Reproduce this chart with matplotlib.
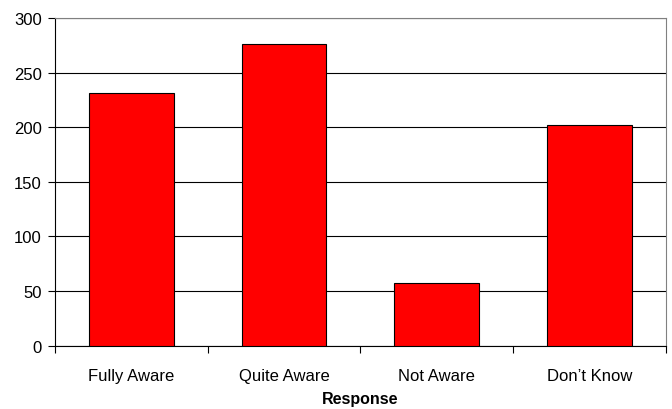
import matplotlib.pyplot as plt
import numpy as np

plt.rcParams['font.family'] = ['Liberation Sans', 'DejaVu Sans']

categories = ["Fully Aware", "Quite Aware", "Not Aware", "Don\u2019t Know"]
counts = [231, 276, 57, 202]
yticks = [0, 50, 100, 150, 200, 250, 300]

fig = plt.figure(figsize=(6.72, 4.10), dpi=100)
ax = fig.add_axes([0.0818, 0.1544, 0.9092, 0.7993])

x = np.arange(len(categories))
ax.bar(x, counts, width=0.555, color='#ff0000', edgecolor='black', linewidth=0.8, zorder=3)

ax.set_xlim(-0.5, len(categories) - 0.5)
ax.set_ylim(0, 300)
ax.set_yticks(yticks)
ax.yaxis.grid(True, color='black', linewidth=0.8, zorder=0)

# category boundaries get the tick marks, labels sit in the middle
ax.set_xticks(np.arange(len(categories) + 1) - 0.5)
ax.set_xticklabels([])
ax.set_xticks(x, minor=True)
ax.set_xticklabels(categories, minor=True)
ax.tick_params(axis='x', which='minor', length=0, pad=16, labelsize=12)
ax.tick_params(axis='x', which='major', length=5, width=0.8, direction='out')
ax.tick_params(axis='y', length=5, width=0.8, direction='out', labelsize=12, pad=4.5)

for side in ['top', 'right']:
    ax.spines[side].set_color('#808080')
    ax.spines[side].set_linewidth(0.8)
for side in ['left', 'bottom']:
    ax.spines[side].set_color('black')
    ax.spines[side].set_linewidth(0.8)

ax.set_xlabel("Response", fontweight='bold', fontsize=11.5, labelpad=6)

fig.savefig("out.png", dpi=100)
